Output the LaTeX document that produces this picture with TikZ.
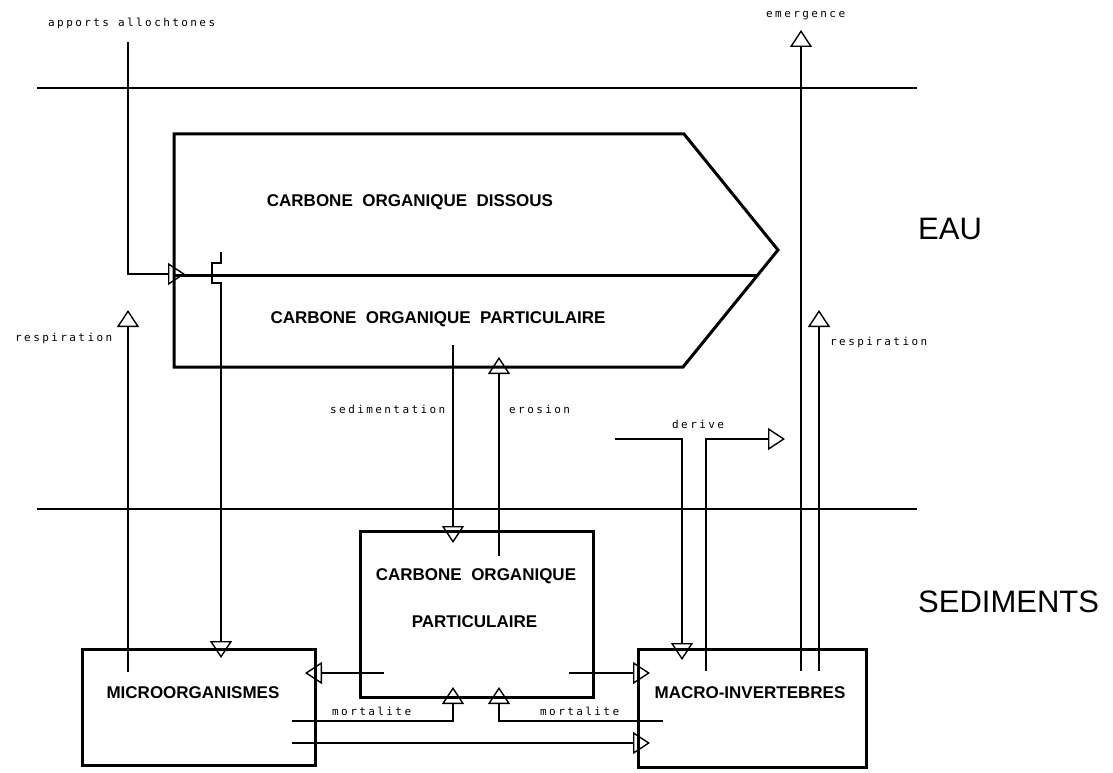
\documentclass[tikz,border=0pt]{standalone}
\usepackage{fontspec}
\setmainfont{Liberation Sans}
\newfontfamily\plotfont[LetterSpace=22]{DejaVu Sans Mono}
\usetikzlibrary{arrows.meta}

\begin{document}
\begin{tikzpicture}[x=1pt, y=-1pt,
  bloc/.style={draw, line width=3pt, outer sep=0pt, inner sep=0pt},
  trait/.style={line width=1.4pt},
  flux/.style={line width=1.4pt, -{Triangle[open, width=22pt, length=17pt]}},
  titre/.style={font=\fontsize{17}{20}\selectfont\bfseries, inner sep=0pt, anchor=base},
  etiquette/.style={font=\plotfont\fontsize{11}{13}\selectfont, inner sep=0pt, anchor=base west},
  milieu/.style={font=\fontsize{31}{36}\selectfont, inner sep=0pt, anchor=base west}]
  \useasboundingbox (0,0) rectangle (1113,773);

  % Draw water / sediment limits
  \draw[trait] (37,88) -- (917,88);
  \draw[trait] (37,509) -- (917,509);
  \node[milieu] (eau) at (918,239) {EAU};
  \node[milieu] (sediments) at (918,612) {SEDIMENTS};

  % Draw carbon compartments in the water
  \draw[line width=3pt] (174,134) -- (684,134) -- (778,250) -- (683,367) -- (174,367) -- cycle;
  \draw[line width=3pt] (174,275) -- (758,275);
  \node[titre] (cod) at (410,206) {CARBONE\ \ ORGANIQUE\ \ DISSOUS};
  \node[titre] (cop) at (438,323) {CARBONE\ \ ORGANIQUE\ \ PARTICULAIRE};

  % Draw sediment boxes
  \node[bloc, minimum width=233pt, minimum height=116pt] (micro) at (198.5,707) {};
  \node[bloc, minimum width=233pt, minimum height=166pt] (copsed) at (476.5,614) {};
  \node[bloc, minimum width=228pt, minimum height=118pt] (macro) at (752,708) {};
  \node[titre] (microtxt) at (193,698) {MICROORGANISMES};
  \node[titre] (copsedtxt) at (476,580) {CARBONE\ \ ORGANIQUE};
  \node[titre] (copsedtxtb) at (474.5,627) {PARTICULAIRE};
  \node[titre] (macrotxt) at (750,698) {MACRO-INVERTEBRES};

  % Track points
  \coordinate (apports) at (128,42);
  \coordinate (entree) at (185,274);
  \coordinate (passage) at (221,252);
  \coordinate (respg) at (128,310);
  \coordinate (sedim) at (453,345);
  \coordinate (eros) at (499,357);
  \coordinate (lateral) at (0,673);
  \coordinate (mort) at (0,721);
  \coordinate (bas) at (0,743);
  \coordinate (derive) at (615,439);
  \coordinate (derivex) at (682,0);
  \coordinate (sortiex) at (706,0);
  \coordinate (sortie) at (785,439);
  \coordinate (emerg) at (801,30);
  \coordinate (respd) at (819,310);

  % Draw fluxes
  \draw[flux] (apports) |- (entree);
  \draw[flux] (passage) -- ++(0,11) -- ++(-9,0) -- ++(0,20) -- ++(9,0)
    -- ([yshift=-9pt]micro.north -| passage);
  \draw[flux] ([yshift=-23pt]micro.north -| respg) -- (respg);
  \draw[flux] (sedim) -- ([yshift=-12pt]copsed.north -| sedim);
  \draw[flux] ([yshift=-25pt]copsed.north -| eros) -- (eros);
  \draw[flux] ([xshift=24pt]copsed.west |- lateral) -- ([xshift=-10pt]micro.east |- lateral);
  \draw[flux] ([xshift=-24pt]copsed.east |- lateral) -- ([xshift=12pt]macro.west |- lateral);
  \draw[flux] ([xshift=-23pt]micro.east |- mort) -| ([yshift=10pt]copsed.south -| sedim);
  \draw[flux] ([xshift=25pt]macro.west |- mort) -| ([yshift=10pt]copsed.south -| eros);
  \draw[flux] ([xshift=-23pt]micro.east |- bas) -- ([xshift=12pt]macro.west |- bas);
  \draw[flux] (derive) -| ([yshift=-11pt]macro.north -| derivex);
  \draw[flux] ([yshift=-22pt]macro.north -| sortiex) |- (sortie);
  \draw[flux] ([yshift=-22pt]macro.north -| emerg) -- (emerg);
  \draw[flux] ([yshift=-22pt]macro.north -| respd) -- (respd);

  % Add flux labels
  \node[etiquette] (lapports) at (48,27) {apports allochtones};
  \node[etiquette] (lemerg) at (766,18) {emergence};
  \node[etiquette] (lrespg) at (15,341) {respiration};
  \node[etiquette] (lsedim) at (330,413) {sedimentation};
  \node[etiquette] (leros) at (509,413) {erosion};
  \node[etiquette] (lderive) at (672,428) {derive};
  \node[etiquette] (lrespd) at (830,345) {respiration};
  \node[etiquette] (lmortg) at (332,715) {mortalite};
  \node[etiquette] (lmortd) at (540,715) {mortalite};
\end{tikzpicture}
\end{document}
